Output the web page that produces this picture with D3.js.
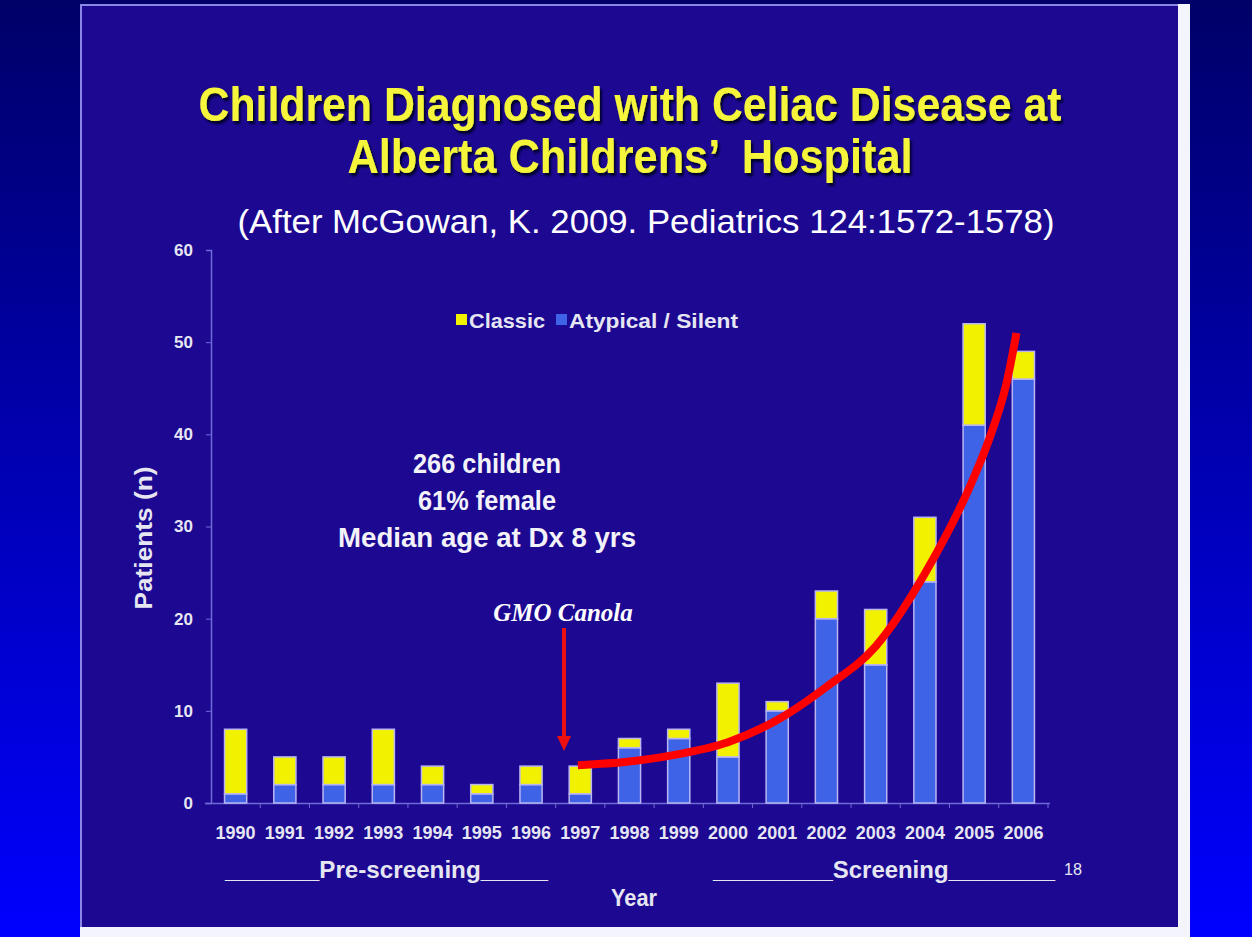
<!DOCTYPE html>
<html>
<head>
<meta charset="utf-8">
<script src="https://cdn.jsdelivr.net/npm/d3@7"></script>
<style>
  html, body { margin: 0; padding: 0; background: #000; overflow: hidden; }
  text { font-family: "Liberation Sans", Arial, sans-serif; }
</style>
</head>
<body>
<div id="chart"></div>
<script>
// data
const years = ['1990', '1991', '1992', '1993', '1994', '1995', '1996', '1997', '1998',
  '1999', '2000', '2001', '2002', '2003', '2004', '2005', '2006'];
const atypical = [1, 2, 2, 2, 2, 1, 2, 1, 6, 7, 5, 10, 20, 15, 24, 41, 46];
const classic = [7, 3, 3, 6, 2, 1, 2, 3, 1, 1, 8, 1, 3, 6, 7, 11, 3];
const yTicks = [0, 10, 20, 30, 40, 50, 60];
// hand drawn red trend: position in year slots, value in patients
const trendPos = [6.95, 8, 9, 10, 11, 12, 13, 14, 15, 15.32, 15.66, 15.86];
const trendVal = [4.1, 4.5, 5.3, 6.6, 9.0, 12.6, 17.0, 24.9, 35.4, 39.7, 45.6, 51];
const titleLines = ['Children Diagnosed with Celiac Disease at', 'Alberta Childrens\u2019 \u00a0Hospital'];
const subtitle = '(After McGowan, K. 2009. Pediatrics 124:1572-1578)';
const noteLines = ['266 children', '61% female', 'Median age at Dx 8 yrs'];

const W = 1252, H = 937;
const yellow = '#f2f200';
const blue = '#3f63e6';
const slideBg = '#1c0891';

const svg = d3.select('#chart').append('svg')
  .attr('width', W)
  .attr('height', H);

const defs = svg.append('defs');
// side bands
const grad = defs.append('linearGradient')
  .attr('id', 'band')
  .attr('x1', 0).attr('y1', 0).attr('x2', 0).attr('y2', 1);
grad.append('stop').attr('offset', '0%').attr('stop-color', '#000068');
grad.append('stop').attr('offset', '100%').attr('stop-color', '#0000ff');
// title shadow
defs.append('filter')
  .attr('id', 'shadow')
  .append('feDropShadow')
  .attr('dx', 2).attr('dy', 3)
  .attr('stdDeviation', 0.8)
  .attr('flood-color', '#05052a');

svg.append('rect').attr('width', W).attr('height', H).attr('fill', 'url(#band)');

// slide
svg.append('rect')
  .attr('x', 80).attr('y', 4)
  .attr('width', 1110).attr('height', 933)
  .attr('fill', '#f4f4fc');
svg.append('rect')
  .attr('x', 80).attr('y', 4)
  .attr('width', 1098).attr('height', 923)
  .attr('fill', slideBg);
svg.append('path')
  .attr('d', 'M81,927V5H1178')
  .attr('fill', 'none')
  .attr('stroke', '#8a86e6')
  .attr('stroke-width', 2);

// title
const title = svg.append('g').attr('text-anchor', 'middle')
  .style('font-weight', 'bold')
  .style('font-size', '48px')
  .attr('filter', 'url(#shadow)');
[[0, 121, 863], [1, 173, 565]].forEach(function (t) {
  title.append('text')
    .attr('x', 630).attr('y', t[1])
    .attr('textLength', t[2]).attr('lengthAdjust', 'spacingAndGlyphs')
    .attr('fill', '#f5f53a')
    .text(titleLines[t[0]]);
});

svg.append('text')
  .attr('x', 646).attr('y', 233)
  .attr('text-anchor', 'middle')
  .attr('textLength', 817).attr('lengthAdjust', 'spacingAndGlyphs')
  .style('font-size', '33px')
  .attr('fill', '#ffffff')
  .text(subtitle);

// scales
const x = d3.scaleBand()
  .domain(years)
  .range([211, 1048])
  .paddingInner(0.55)
  .paddingOuter(0.275);
const y = d3.scaleLinear()
  .domain([0, 60])
  .range([803, 250]);
const slot = d3.scaleLinear()
  .domain([0, 1])
  .range([x(years[0]) + x.bandwidth() / 2, x(years[1]) + x.bandwidth() / 2]);

const axisColor = '#6e6ad8';
const labelColor = '#e6e6f2';

// y axis
const gy = svg.append('g')
  .attr('transform', 'translate(211,0)')
  .call(d3.axisLeft(y).tickValues(yTicks).tickSize(5).tickPadding(13));
gy.select('.domain').attr('stroke', axisColor).attr('stroke-width', 1.5);
gy.selectAll('.tick line').attr('stroke', axisColor);
gy.selectAll('.tick text')
  .attr('fill', labelColor)
  .style('font-size', '17px')
  .style('font-weight', 'bold')
  .style('font-family', '"Liberation Sans", Arial, sans-serif');

// x axis
const gx = svg.append('g')
  .attr('transform', 'translate(0,803)')
  .call(d3.axisBottom(x).tickSize(0).tickPadding(23).tickSizeOuter(0));
gx.select('.domain').attr('stroke', axisColor).attr('stroke-width', 1.5)
  .attr('d', 'M205,0.5H1050');
gx.selectAll('.tick text')
  .attr('fill', labelColor)
  .attr('textLength', 40).attr('lengthAdjust', 'spacingAndGlyphs')
  .style('font-size', '18px')
  .style('font-weight', 'bold')
  .style('font-family', '"Liberation Sans", Arial, sans-serif');
// category boundary ticks
svg.append('g').selectAll('line')
  .data(d3.range(1, years.length + 1))
  .join('line')
  .attr('x1', function (i) { return slot(i - 0.5); })
  .attr('x2', function (i) { return slot(i - 0.5); })
  .attr('y1', 803).attr('y2', 808)
  .attr('stroke', axisColor);

// stacked bars
const stack = years.map(function (yr, i) {
  return { year: yr, a: atypical[i], c: classic[i] };
});
const bars = svg.append('g').attr('stroke', '#b9b6f2').attr('stroke-width', 1.5);
bars.selectAll('.bar-a')
  .data(stack)
  .join('rect')
  .attr('class', 'bar-a')
  .attr('x', function (d) { return x(d.year); })
  .attr('width', x.bandwidth())
  .attr('y', function (d) { return y(d.a); })
  .attr('height', function (d) { return y(0) - y(d.a); })
  .attr('fill', blue);
bars.selectAll('.bar-c')
  .data(stack)
  .join('rect')
  .attr('class', 'bar-c')
  .attr('x', function (d) { return x(d.year); })
  .attr('width', x.bandwidth())
  .attr('y', function (d) { return y(d.a + d.c); })
  .attr('height', function (d) { return y(d.a) - y(d.a + d.c); })
  .attr('fill', yellow);

// axis titles
svg.append('text')
  .attr('transform', 'translate(152,538) rotate(-90)')
  .attr('text-anchor', 'middle')
  .attr('fill', labelColor)
  .attr('textLength', 143).attr('lengthAdjust', 'spacingAndGlyphs')
  .style('font-size', '24px')
  .style('font-weight', 'bold')
  .text('Patients (n)');

svg.append('text')
  .attr('x', 634).attr('y', 906)
  .attr('text-anchor', 'middle')
  .attr('fill', labelColor)
  .attr('textLength', 46).attr('lengthAdjust', 'spacingAndGlyphs')
  .style('font-size', '24px')
  .style('font-weight', 'bold')
  .text('Year');

const phases = svg.append('g')
  .attr('fill', labelColor)
  .style('font-size', '24px')
  .style('font-weight', 'bold');
phases.append('text')
  .attr('x', 225).attr('y', 878)
  .attr('textLength', 323).attr('lengthAdjust', 'spacingAndGlyphs')
  .text('_______Pre-screening_____');
phases.append('text')
  .attr('x', 713).attr('y', 878)
  .attr('textLength', 342).attr('lengthAdjust', 'spacingAndGlyphs')
  .text('_________Screening________');
svg.append('text')
  .attr('x', 1064).attr('y', 875)
  .attr('fill', labelColor)
  .attr('textLength', 18).attr('lengthAdjust', 'spacingAndGlyphs')
  .style('font-size', '17px')
  .text('18');

// legend
const legend = svg.append('g')
  .style('font-size', '21px')
  .style('font-weight', 'bold')
  .attr('fill', labelColor);
legend.append('rect').attr('x', 456).attr('y', 314).attr('width', 11).attr('height', 11).attr('fill', yellow);
legend.append('text').attr('x', 469).attr('y', 328)
  .attr('textLength', 76).attr('lengthAdjust', 'spacingAndGlyphs').text('Classic');
legend.append('rect').attr('x', 556).attr('y', 314).attr('width', 11).attr('height', 11).attr('fill', blue);
legend.append('text').attr('x', 569).attr('y', 328)
  .attr('textLength', 169).attr('lengthAdjust', 'spacingAndGlyphs').text('Atypical / Silent');

// note
svg.append('g')
  .attr('text-anchor', 'middle')
  .attr('fill', '#f2f2f8')
  .style('font-size', '28px')
  .style('font-weight', 'bold')
  .selectAll('text')
  .data(noteLines)
  .join('text')
  .attr('x', 487)
  .attr('y', function (d, i) { return 473 + i * 37; })
  .attr('textLength', function (d, i) { return [148, 138, 298][i]; })
  .attr('lengthAdjust', 'spacingAndGlyphs')
  .text(function (d) { return d; });

// GMO Canola arrow
svg.append('text')
  .attr('x', 563).attr('y', 621)
  .attr('text-anchor', 'middle')
  .attr('fill', '#ffffff')
  .style('font-family', '"Liberation Serif", "Times New Roman", serif')
  .style('font-style', 'italic')
  .style('font-weight', 'bold')
  .style('font-size', '25px')
  .text('GMO Canola');
const ax = slot(6.67);
svg.append('line')
  .attr('x1', ax).attr('x2', ax)
  .attr('y1', 628).attr('y2', 738)
  .attr('stroke', '#ee1010')
  .attr('stroke-width', 4);
svg.append('path')
  .attr('d', 'M' + (ax - 7) + ',736L' + (ax + 7) + ',736L' + ax + ',751Z')
  .attr('fill', '#ee1010');

// red trend curve
const trend = trendPos.map(function (p, i) { return [slot(p), y(trendVal[i])]; });
svg.append('path')
  .datum(trend)
  .attr('fill', 'none')
  .attr('stroke', '#ff0000')
  .attr('stroke-width', 8)
  .attr('d', d3.line().curve(d3.curveMonotoneX));
</script>
</body>
</html>
